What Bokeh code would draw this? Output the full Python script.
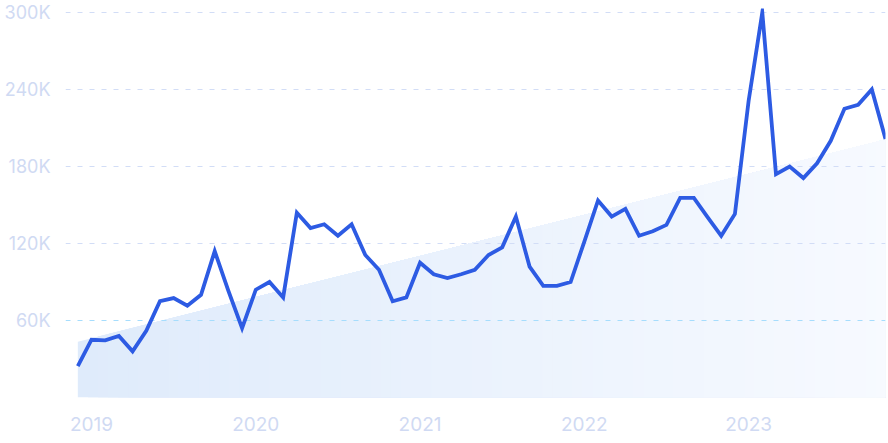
from bokeh.plotting import figure
from bokeh.models import FixedTicker, Grid, ColumnDataSource
from bokeh.embed import file_html
from bokeh.resources import INLINE

# ---- data (values in thousands) ----
months = [f"{y}-{m:02d}" for y, m in [(2018, 12)] + [(yy, mm) for yy in range(2019, 2024) for mm in range(1, 13)]][:60]
values = [24.4, 45, 44.5, 48, 36, 52, 75, 77.5, 71.5, 80,
          114, 83, 54, 84, 90, 78, 144, 132, 135, 126,
          135, 111, 99.5, 75, 78, 105, 96, 93, 96, 99.5,
          111, 117, 141, 102, 87, 87, 90, 121.5, 153.5, 141,
          147, 126, 129.5, 134.5, 155.5, 155.5, 140.5, 126, 143, 231,
          300, 174, 180, 171, 182.5, 200, 225, 228, 240, 201.5]
trend_start, trend_end = 43.5, 201.0
year_ticks = [1, 13, 25, 37, 49]
year_labels = ["2019", "2020", "2021", "2022", "2023"]
y_ticks = [60, 120, 180, 240, 300]
y_labels = ["60K", "120K", "180K", "240K", "300K"]

x = list(range(len(values)))

p = figure(width=888, height=443, output_backend="svg", toolbar_location=None,
           x_range=(-0.9, 59.0), y_range=(0, 303.1),
           min_border_left=65, min_border_right=3, min_border_top=8, min_border_bottom=46)
p.outline_line_color = None
p.background_fill_color = "white"
p.border_fill_color = "white"

# ---- gradient trend area ----
x_end = x[-1]
xs, ys, cols = [], [], []
c0 = (223, 235, 251)
c1 = (247, 250, 255)
steps = 80
for k in range(steps):
    f = k / steps
    xk = x[0] + (x_end - x[0]) * f
    tk = trend_start + (trend_end - trend_start) * f
    xs.append([xk, xk, x_end, x_end])
    ys.append([0, tk, trend_end, 0])
    c = tuple(int(round(c0[i] + (c1[i] - c0[i]) * f)) for i in range(3))
    cols.append("#%02x%02x%02x" % c)
area = p.patches(xs=xs, ys=ys, fill_color=cols, line_color=None)
area.level = "image"

# ---- grid ----
p.xgrid.visible = False
p.ygrid.visible = False
g1 = Grid(dimension=1, ticker=FixedTicker(ticks=[120, 180, 240, 300]),
          grid_line_color="#d2ddf6", grid_line_dash="5 7", grid_line_width=1)
g2 = Grid(dimension=1, ticker=FixedTicker(ticks=[60]),
          grid_line_color="#a6ddfd", grid_line_dash="5 7", grid_line_width=1)
g1.level = "underlay"
g2.level = "underlay"
p.add_layout(g1)
p.add_layout(g2)

# ---- line ----
src = ColumnDataSource(dict(x=x, y=values, month=months))
p.line("x", "y", source=src, line_color="#2d5be3", line_width=3.8,
       line_join="miter")

# ---- axes ----
for ax in (p.xaxis[0], p.yaxis[0]):
    ax.axis_line_color = None
    ax.major_tick_line_color = None
    ax.minor_tick_line_color = None
    ax.major_label_text_color = "#d0daf3"
    ax.major_label_text_font = "Inter"

p.xaxis.major_label_text_font_size = "19px"
p.yaxis.major_label_text_font_size = "18px"

p.xaxis.ticker = FixedTicker(ticks=year_ticks)
p.xaxis.major_label_overrides = {t: l for t, l in zip(year_ticks, year_labels)}
p.xaxis.major_label_standoff = 13

p.yaxis.ticker = FixedTicker(ticks=y_ticks)
p.yaxis.major_label_overrides = {t: l for t, l in zip(y_ticks, y_labels)}
p.yaxis.major_label_standoff = 9

open("out.html", "w").write(file_html(p, INLINE))
